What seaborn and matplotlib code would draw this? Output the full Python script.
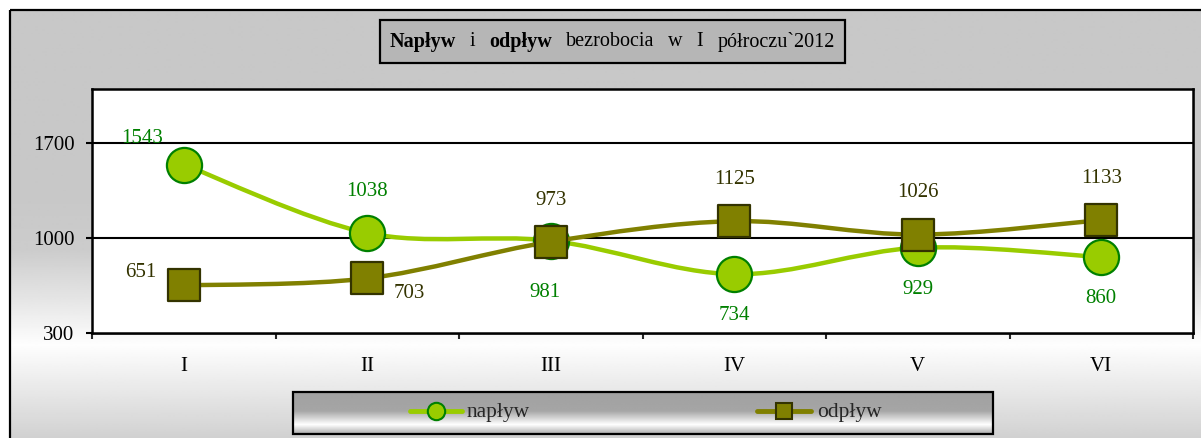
import numpy as np
import matplotlib
matplotlib.use("Agg")
import matplotlib.pyplot as plt
from matplotlib.path import Path
from matplotlib.patches import PathPatch, Rectangle
from matplotlib.lines import Line2D
import seaborn as sns

# data
months = ["I", "II", "III", "IV", "V", "VI"]
naplyw = [1543, 1038, 981, 734, 929, 860]
odplyw = [651, 703, 973, 1125, 1026, 1133]
naplyw_lbl = ["upleft", "above", "below2", "below", "below", "below"]
odplyw_lbl = ["left", "right", "above", "above", "above", "above"]
yticks = [300, 1000, 1700]

title_words = [("Napływ", "bold"), ("i", "normal"), ("odpływ", "bold"),
               ("bezrobocia", "normal"), ("w", "normal"), ("I", "normal"),
               ("półroczu`2012", "normal")]

c_nap, c_nap_edge = "#99CC00", "#008000"
c_odp, c_odp_edge = "#808000", "#333300"

sns.set_theme(style="white")
plt.rcParams["font.family"] = ["Liberation Serif", "DejaVu Serif"]

W, H = 1201, 438
fig = plt.figure(figsize=(W / 100, H / 100), dpi=100)
fig.patch.set_facecolor("white")

# background layer in pixel coords
bg = fig.add_axes([0, 0, 1, 1], zorder=0)
stops_y = [10, 200, 250, 300, 345, 438]
stops_v = [0.784, 0.784, 0.80, 0.90, 0.995, 0.82]
grad = np.interp(np.arange(10, 439), stops_y, stops_v)[:, None]
bg.imshow(np.repeat(grad, 2, axis=1), cmap="gray", vmin=0, vmax=1,
          extent=(10, W + 5, 438, 10), aspect="auto", interpolation="bilinear")
bg.add_patch(Rectangle((10, 10), W, H, fill=False, ec="black", lw=1.6))
# plot area shadow
bg.add_patch(Rectangle((94, 91), 1193 - 92, 333 - 89, fc="#9a9a9a", ec="none"))

# title box with mixed weights
bg.add_patch(Rectangle((380, 20), 465, 43, fc="#b6b6b6", ec="black", lw=1.6))
renderer = fig.canvas.get_renderer()
gap = 14
widths = []
texts = []
for word, weight in title_words:
    t = bg.text(0, 42, word, fontsize=14.5, fontweight=weight,
                va="center", ha="left", color="black")
    widths.append(t.get_window_extent(renderer).width)
    texts.append(t)
total = sum(widths) + gap * (len(widths) - 1)
x0 = 612 - total / 2
for t, w in zip(texts, widths):
    t.set_x(x0)
    x0 += w + gap

# legend box with metallic gradient
lg_stops = [0, 0.45, 0.78, 1.0]
lg_vals = [0.63, 0.65, 1.0, 0.68]
lgrad = np.interp(np.linspace(0, 1, 60), lg_stops, lg_vals)[:, None]
bg.imshow(np.repeat(lgrad, 2, axis=1), cmap="gray", vmin=0, vmax=1,
          extent=(293, 993, 434, 392), aspect="auto", interpolation="bilinear")
bg.add_patch(Rectangle((293, 392), 700, 42, fill=False, ec="black", lw=1.6))
bg.add_line(Line2D([410, 462], [411, 411], color=c_nap, lw=3.5))
bg.add_line(Line2D([436], [411], marker="o", ms=12.5, mfc=c_nap, mec=c_nap_edge, mew=1.5))
bg.text(467, 412, "napływ", fontsize=15.5, va="center", ha="left")
bg.add_line(Line2D([757, 811], [411, 411], color=c_odp, lw=3.5))
bg.add_line(Line2D([784], [411], marker="s", ms=12, mfc=c_odp, mec=c_odp_edge, mew=1.5))
bg.text(817, 412, "odpływ", fontsize=15.5, va="center", ha="left")
bg.set_xlim(0, W)
bg.set_ylim(H, 0)
bg.axis("off")

# main plot
ax = fig.add_axes([92 / W, (H - 333) / H, (1193 - 92) / W, (333 - 89) / H], zorder=1)
ax.set_facecolor("white")


def smooth_path(xs, ys, t=1 / 6):
    pts = np.column_stack([xs, ys]).astype(float)
    ext = np.vstack([pts[0], pts, pts[-1]])
    verts, codes = [pts[0]], [Path.MOVETO]
    for i in range(len(pts) - 1):
        p0, p1, p2, p3 = ext[i], ext[i + 1], ext[i + 2], ext[i + 3]
        verts += [p1 + (p2 - p0) * t, p2 - (p3 - p1) * t, p2]
        codes += [Path.CURVE4] * 3
    return Path(verts, codes)


for y in yticks[1:]:
    ax.axhline(y, color="black", lw=1.5, zorder=1)

xs = np.arange(len(months))
ax.add_patch(PathPatch(smooth_path(xs, naplyw), fill=False, ec=c_nap, lw=3.2,
                       capstyle="round", zorder=2))
sns.scatterplot(x=months, y=naplyw, marker="o", s=640, color=c_nap,
                edgecolor=c_nap_edge, linewidth=1.6, zorder=3, ax=ax)
ax.add_patch(PathPatch(smooth_path(xs, odplyw), fill=False, ec=c_odp, lw=3.2,
                       capstyle="round", zorder=4))
sns.scatterplot(x=months, y=odplyw, marker="s", s=560, color=c_odp,
                edgecolor=c_odp_edge, linewidth=1.6, zorder=5, ax=ax)

offsets = {"above": (0, 30), "below": (0, -30), "below2": (-4, -37),
           "left": (-31, 9), "right": (30, -11), "upleft": (-30, 19)}
for vals, pos, col in [(naplyw, naplyw_lbl, c_nap_edge), (odplyw, odplyw_lbl, c_odp_edge)]:
    for i, (v, p) in enumerate(zip(vals, pos)):
        ax.annotate(str(v), (i, v), xytext=offsets[p], textcoords="offset points",
                    ha="center", va="center", fontsize=15, color=col, zorder=6)

ax.set_xlim(-0.5, len(months) - 0.5)
ax.set_ylim(300, 2100)
ax.set_yticks(yticks)
ax.set_xticks(xs, months)
ax.set_xticks(np.arange(-0.5, len(months)), minor=True)
ax.set_xlabel("")
ax.set_ylabel("")
ax.tick_params(axis="x", which="major", length=0, pad=17, labelsize=15, colors="black")
ax.tick_params(axis="x", which="minor", bottom=True, direction="out", length=4.5, width=1.5)
ax.tick_params(axis="y", left=True, direction="out", length=4.5, width=1.5, pad=8,
               labelsize=15, colors="black")
for sp in ax.spines.values():
    sp.set_visible(True)
    sp.set_color("black")
    sp.set_linewidth(1.8)
ax.grid(False)

fig.savefig("out.png", dpi=100)
